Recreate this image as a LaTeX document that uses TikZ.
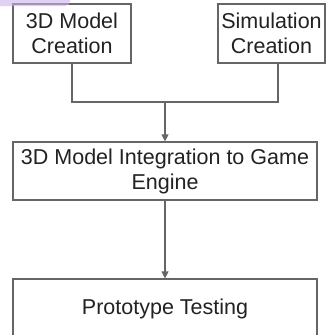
\documentclass[tikz,border=0pt]{standalone}
\usepackage{fontspec}
\setmainfont{Liberation Sans}
\usetikzlibrary{arrows.meta,calc}
\definecolor{linegray}{HTML}{666666}
\definecolor{txt}{HTML}{222222}
\definecolor{wm}{HTML}{C9B2EA}
\begin{document}
\begin{tikzpicture}[x=1pt,y=-1pt,
  box/.style={draw=linegray,line width=1.2pt,fill=white,text=txt,align=center,
    inner sep=0pt,font=\fontsize{21.5}{25}\selectfont},
  conn/.style={draw=linegray,line width=1.2pt},
  arr/.style={conn,-{Triangle[width=7pt,length=7pt]}}]
\useasboundingbox (0,0) rectangle (328,335);
\node[box,minimum width=118pt,minimum height=59pt] (b1) at (72,33.5) {3D Model\\Creation};
\node[box,minimum width=107pt,minimum height=59pt] (b2) at (271.5,33.5) {Simulation\\Creation};
\node[box,minimum width=304pt,minimum height=58pt] (b3) at (165,171) {3D Model Integration to Game\\Engine};
\node[box,minimum width=304pt,minimum height=60pt] (b4) at (165,309) {Prototype Testing};
\coordinate (j) at (165,102);
\coordinate (b2s) at ($(b2.south)+(6.5,0)$);
\draw[conn] (b1.south) |- (j);
\draw[conn] (b2s) |- (j);
\draw[arr] (j) -- (b3.north);
\draw[arr] (b3.south) -- (b4.north);
\fill[wm,opacity=0.6,rounded corners=5pt] (-10,-10) rectangle (70,6);
\end{tikzpicture}
\end{document}
